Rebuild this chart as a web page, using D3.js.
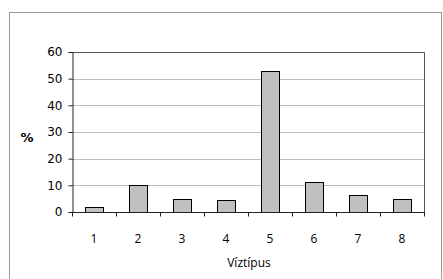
<!DOCTYPE html>
<html>
<head>
<meta charset="utf-8">
<script src="https://cdn.jsdelivr.net/npm/d3@7"></script>
<style>
  body { margin: 0; background: #fff; }
</style>
</head>
<body>
<div id="chart"></div>
<script>
// chart data
var categories = ["1", "2", "3", "4", "5", "6", "7", "8"];
var values = [1.7, 10.2, 4.9, 4.5, 53, 11.1, 6.2, 4.9];
var yTicks = [0, 10, 20, 30, 40, 50, 60];

var W = 443, H = 279;
var margin = {top: 52, right: 19, bottom: 67, left: 72},
    width = W - margin.left - margin.right,
    height = H - margin.top - margin.bottom;

var root = d3.select("#chart")
    .append("svg")
    .attr("width", W)
    .attr("height", H);

// outer frame
root.append("rect")
    .attr("x", 9.5).attr("y", 12.5)
    .attr("width", 432).attr("height", 280)
    .attr("fill", "none")
    .attr("stroke", "#999")
    .attr("stroke-width", 1);

var svg = root.append("g")
    .attr("transform", "translate(" + margin.left + "," + margin.top + ")");

var x = d3.scaleBand()
    .domain(categories)
    .range([0, width])
    .paddingInner(0.59)
    .paddingOuter(0.295);

var y = d3.scaleLinear()
    .domain([0, 60])
    .range([height, 0]);

// gridlines
svg.append("g")
    .selectAll("line")
    .data(yTicks.filter(function (d) { return d > 0 && d < 60; }))
    .enter()
    .append("line")
    .attr("x1", 0).attr("x2", width)
    .attr("y1", function (d) { return Math.round(y(d)) + 0.5; })
    .attr("y2", function (d) { return Math.round(y(d)) + 0.5; })
    .attr("stroke", "#bdbdbd");

// plot border top and right
svg.append("path")
    .attr("d", "M0,0.5H" + (width + 0.5) + "V" + height)
    .attr("fill", "none")
    .attr("stroke", "#555");

// bars
svg.append("g")
    .selectAll("rect")
    .data(values)
    .enter()
    .append("rect")
    .attr("x", function (d, i) { return Math.round(x(categories[i])) + 0.5; })
    .attr("y", function (d) { return Math.round(y(d)) + 0.5; })
    .attr("width", Math.round(x.bandwidth()))
    .attr("height", function (d) { return Math.round(height - y(d)); })
    .attr("fill", "#c0c0c0")
    .attr("stroke", "#000")
    .attr("stroke-width", 1);

// y axis
var yAxis = svg.append("g")
    .attr("transform", "translate(0.5,0)")
    .call(d3.axisLeft(y).tickValues(yTicks).tickSize(4).tickPadding(6));
yAxis.selectAll("path, line").attr("stroke", "#222");
yAxis.selectAll("text")
    .style("font-family", "DejaVu Sans, Verdana, sans-serif")
    .style("font-size", "12px")
    .attr("fill", "#000");

// x axis with ticks at category boundaries
var step = width / categories.length;
var bounds = d3.range(categories.length + 1).map(function (i) { return i * step; });
var xg = svg.append("g").attr("transform", "translate(0," + (height + 0.5) + ")");
xg.append("line")
    .attr("x1", 0).attr("x2", width + 1)
    .attr("stroke", "#222");
xg.selectAll(".tk")
    .data(bounds)
    .enter()
    .append("line")
    .attr("class", "tk")
    .attr("x1", function (d) { return Math.round(d) + 0.5; })
    .attr("x2", function (d) { return Math.round(d) + 0.5; })
    .attr("y1", 0).attr("y2", 4)
    .attr("stroke", "#222");
xg.selectAll(".lbl")
    .data(categories)
    .enter()
    .append("text")
    .attr("class", "lbl")
    .attr("x", function (d) { return x(d) + x.bandwidth() / 2; })
    .attr("y", 30)
    .attr("text-anchor", "middle")
    .style("font-family", "Open Sans, sans-serif")
    .style("font-size", "12px")
    .text(function (d) { return d; });

// axis titles
svg.append("text")
    .attr("x", width / 2 + 1)
    .attr("y", height + 55)
    .attr("text-anchor", "middle")
    .style("font-family", "Open Sans, sans-serif")
    .style("font-size", "12px")
    .text("Víztípus");

svg.append("text")
    .attr("x", -45)
    .attr("y", height / 2 + 5)
    .attr("text-anchor", "middle")
    .attr("dy", "0.35em")
    .style("font-family", "DejaVu Sans, sans-serif")
    .style("font-size", "13px")
    .style("font-weight", "bold")
    .text("%");
</script>
</body>
</html>
